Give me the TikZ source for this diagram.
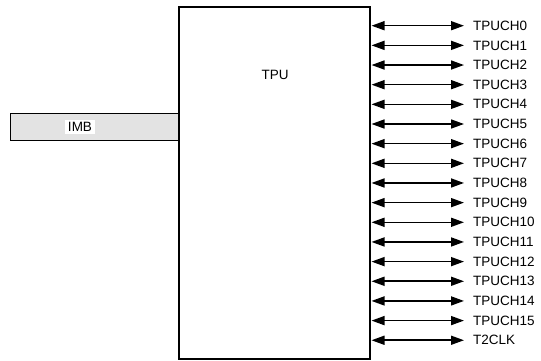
\documentclass[tikz,border=0pt]{standalone}
\usepackage{fontspec}
\setmainfont{Liberation Sans}
\usetikzlibrary{arrows.meta}
\begin{document}
\begin{tikzpicture}[x=1pt,y=-1pt,
  lbl/.style={font=\fontsize{13.5}{15}\selectfont, inner sep=0pt},
  tip/.tip={Triangle[length=13pt,width=9pt]},
  sig/.style={line width=1.6pt, tip-tip}]
\useasboundingbox (0,0) rectangle (541,361);
\draw[line width=1pt, fill=black!11] (10,113) rectangle (179,140);
\node[lbl, fill=white, inner xsep=3pt, inner ysep=2pt] (imb) at (80,127) {IMB};
\draw[line width=1.8pt] (179,7) rectangle (370,359);
\node[lbl] (tpu) at (275,75) {TPU};
\foreach \i in {0,...,15} {
  \coordinate (l\i) at (371.5,{25.7+19.66*\i});
  \node[lbl, anchor=west] (t\i) at (473,{25.7+19.66*\i}) {TPUCH\i};
  \draw[sig] (l\i) -- (t\i.west -| 464,0);
}
\coordinate (l16) at (371.5,{25.7+19.66*16});
\node[lbl, anchor=west] (t16) at (473,{25.7+19.66*16}) {T2CLK};
\draw[sig] (l16) -- (t16.west -| 464,0);
\end{tikzpicture}
\end{document}
